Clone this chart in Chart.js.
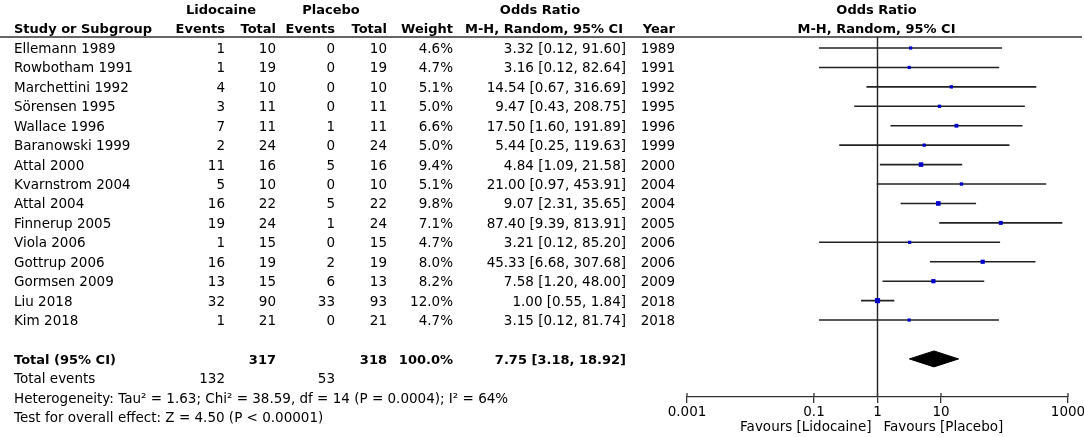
<!DOCTYPE html>
<html>
<head>
<meta charset="utf-8">
<script src="https://cdn.jsdelivr.net/npm/chart.js@4.4.0/dist/chart.umd.min.js"></script>
<style>
  html, body { margin: 0; padding: 0; background: #fff; }
  #wrap { width: 1084px; height: 437px; position: relative; }
</style>
</head>
<body>
<div id="wrap"><canvas id="forest"></canvas></div>
<script>
const studies = ['Ellemann 1989', 'Rowbotham 1991', 'Marchettini 1992', 'Sörensen 1995', 'Wallace 1996',
  'Baranowski 1999', 'Attal 2000', 'Kvarnstrom 2004', 'Attal 2004', 'Finnerup 2005', 'Viola 2006',
  'Gottrup 2006', 'Gormsen 2009', 'Liu 2018', 'Kim 2018'];
const lidoEvents = [1, 1, 4, 3, 7, 2, 11, 5, 16, 19, 1, 16, 13, 32, 1];
const lidoTotal = [10, 19, 10, 11, 11, 24, 16, 10, 22, 24, 15, 19, 15, 90, 21];
const placEvents = [0, 0, 0, 0, 1, 0, 5, 0, 5, 1, 0, 2, 6, 33, 0];
const placTotal = [10, 19, 10, 11, 11, 24, 16, 10, 22, 24, 15, 19, 13, 93, 21];
const weights = [4.6, 4.7, 5.1, 5.0, 6.6, 5.0, 9.4, 5.1, 9.8, 7.1, 4.7, 8.0, 8.2, 12.0, 4.7];
const orEst = [3.32, 3.16, 14.54, 9.47, 17.50, 5.44, 4.84, 21.00, 9.07, 87.40, 3.21, 45.33, 7.58, 1.00, 3.15];
const ciLow = [0.12, 0.12, 0.67, 0.43, 1.60, 0.25, 1.09, 0.97, 2.31, 9.39, 0.12, 6.68, 1.20, 0.55, 0.12];
const ciHigh = [91.60, 82.64, 316.69, 208.75, 191.89, 119.63, 21.58, 453.91, 35.65, 813.91, 85.20, 307.68, 48.00, 1.84, 81.74];
const years = [1989, 1991, 1992, 1995, 1996, 1999, 2000, 2004, 2004, 2005, 2006, 2006, 2009, 2018, 2018];
const pooled = { est: 7.75, low: 3.18, high: 18.92, lidoEvents: 132, lidoTotal: 317, placEvents: 53, placTotal: 318 };
const xTicks = [0.001, 0.1, 1, 10, 1000];

const TOTAL_ROW = 16;
const FONT = 'DejaVu Sans';

function fmt2(v) { return v.toFixed(2); }

// confidence interval whiskers, one line dataset per study
const whiskers = studies.map((s, i) => ({
  type: 'line',
  data: [{ x: ciLow[i], y: i }, { x: ciHigh[i], y: i }],
  borderColor: '#222',
  borderWidth: 1.6,
  pointRadius: 0,
  fill: false
}));

const diamond = {
  type: 'line',
  data: [
    { x: pooled.low, y: TOTAL_ROW },
    { x: pooled.est, y: TOTAL_ROW - 0.41 },
    { x: pooled.high, y: TOTAL_ROW },
    { x: pooled.est, y: TOTAL_ROW + 0.41 },
    { x: pooled.low, y: TOTAL_ROW }
  ],
  borderColor: '#000',
  backgroundColor: '#000',
  borderWidth: 1,
  pointRadius: 0,
  fill: 'shape'
};

const nullLine = {
  type: 'line',
  data: [{ x: 1, y: -0.566 }, { x: 1, y: 17.96 }],
  borderColor: '#222',
  borderWidth: 1.4,
  pointRadius: 0,
  fill: false
};

const squares = {
  type: 'line',
  showLine: false,
  data: studies.map((s, i) => ({ x: orEst[i], y: i })),
  pointStyle: 'rect',
  pointRadius: weights.map(w => Math.sqrt(w) * 1.05),
  pointBackgroundColor: '#0000cc',
  pointBorderWidth: 0,
  borderColor: '#0000cc'
};

const tablePlugin = {
  id: 'table',
  afterDraw(chart) {
    const { ctx, chartArea, scales: { x, y } } = chart;
    const rowY = r => y.getPixelForValue(r) + 1.5;
    const put = (s, px, r, align, bold) => {
      ctx.font = bold ? 'bold 13px "' + FONT + '"' : '13.5px "' + FONT + '"';
      ctx.textAlign = align;
      ctx.textBaseline = 'middle';
      ctx.fillText(s, px, typeof r === 'number' ? rowY(r) : r.px);
    };
    ctx.save();
    ctx.fillStyle = '#000';

    // header line
    ctx.strokeStyle = '#333';
    ctx.lineWidth = 1.5;
    ctx.beginPath();
    ctx.moveTo(0, chartArea.top);
    ctx.lineTo(1082, chartArea.top);
    ctx.stroke();

    // column headers
    put('Lidocaine', 221, -2, 'center', true);
    put('Placebo', 331, -2, 'center', true);
    put('Odds Ratio', 540, -2, 'center', true);
    put('Study or Subgroup', 14, -1, 'left', true);
    put('Events', 225, -1, 'right', true);
    put('Total', 276, -1, 'right', true);
    put('Events', 335, -1, 'right', true);
    put('Total', 387, -1, 'right', true);
    put('Weight', 453, -1, 'right', true);
    put('M-H, Random, 95% CI', 544, -1, 'center', true);
    put('Year', 675, -1, 'right', true);

    const cx = x.getPixelForValue(1) - 1;
    put('Odds Ratio', cx, -2, 'center', true);
    put('M-H, Random, 95% CI', cx, -1, 'center', true);

    // study rows
    studies.forEach((s, i) => {
      put(s, 14, i, 'left');
      put(String(lidoEvents[i]), 225, i, 'right');
      put(String(lidoTotal[i]), 276, i, 'right');
      put(String(placEvents[i]), 335, i, 'right');
      put(String(placTotal[i]), 387, i, 'right');
      put(weights[i].toFixed(1) + '%', 453, i, 'right');
      put(fmt2(orEst[i]) + ' [' + fmt2(ciLow[i]) + ', ' + fmt2(ciHigh[i]) + ']', 626, i, 'right');
      put(String(years[i]), 675, i, 'right');
    });

    // totals
    put('Total (95% CI)', 14, TOTAL_ROW, 'left', true);
    put(String(pooled.lidoTotal), 276, TOTAL_ROW, 'right', true);
    put(String(pooled.placTotal), 387, TOTAL_ROW, 'right', true);
    put('100.0%', 453, TOTAL_ROW, 'right', true);
    put(fmt2(pooled.est) + ' [' + fmt2(pooled.low) + ', ' + fmt2(pooled.high) + ']', 626, TOTAL_ROW, 'right', true);

    put('Total events', 14, TOTAL_ROW + 1, 'left');
    put(String(pooled.lidoEvents), 225, TOTAL_ROW + 1, 'right');
    put(String(pooled.placEvents), 335, TOTAL_ROW + 1, 'right');
    put('Heterogeneity: Tau² = 1.63; Chi² = 38.59, df = 14 (P = 0.0004); I² = 64%', 14, TOTAL_ROW + 2, 'left');
    put('Test for overall effect: Z = 4.50 (P < 0.00001)', 14, TOTAL_ROW + 3, 'left');

    // small upward tick marks on the axis
    ctx.strokeStyle = '#333';
    ctx.lineWidth = 1.3;
    x.ticks.forEach(t => {
      const px = x.getPixelForValue(t.value);
      ctx.beginPath();
      ctx.moveTo(px, chartArea.bottom);
      ctx.lineTo(px, chartArea.bottom - 4);
      ctx.stroke();
    });

    // favours labels
    const fy = chartArea.bottom + 30;
    put('Favours [Lidocaine]', cx - 5, { px: fy }, 'right');
    put('Favours [Placebo]', cx + 7, { px: fy }, 'left');
    ctx.restore();
  }
};

new Chart(document.getElementById('forest'), {
  type: 'line',
  data: { datasets: [squares, diamond, nullLine, ...whiskers] },
  options: {
    responsive: true,
    maintainAspectRatio: false,
    animation: false,
    layout: { padding: { left: 687, right: 16, top: 37, bottom: 0 } },
    plugins: { legend: { display: false }, tooltip: { enabled: false } },
    scales: {
      x: {
        type: 'logarithmic',
        min: 0.001,
        max: 1000,
        afterBuildTicks: s => { s.ticks = xTicks.map(v => ({ value: v })); },
        afterFit: s => { s.height = 40; s.paddingLeft = 0; s.paddingRight = 0; },
        ticks: {
          autoSkip: false,
          maxRotation: 0,
          color: '#000',
          padding: 1,
          font: { family: FONT, size: 13.5 },
          callback: v => String(v)
        },
        grid: { drawOnChartArea: false, drawTicks: true, tickLength: 6, color: '#333', lineWidth: 1.3 },
        border: { display: true, color: '#333', width: 1.3 }
      },
      y: {
        type: 'linear',
        reverse: true,
        min: -0.566,
        max: 17.96,
        display: false
      }
    }
  },
  plugins: [tablePlugin]
});
</script>
</body>
</html>
